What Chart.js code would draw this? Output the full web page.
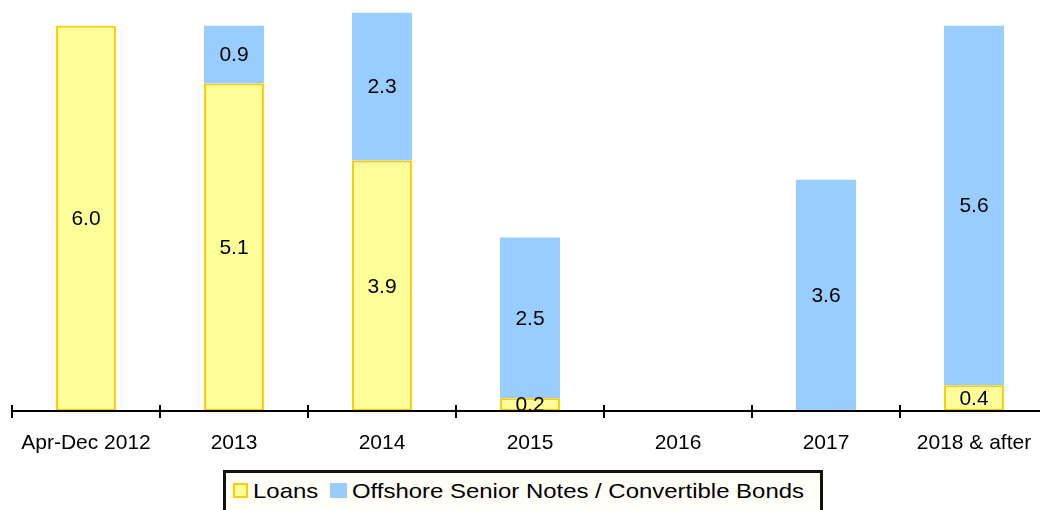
<!DOCTYPE html>
<html>
<head>
<meta charset="utf-8">
<script src="https://cdn.jsdelivr.net/npm/chart.js@4"></script>
<style>
  body { margin: 0; overflow: hidden; background: #fff; font-family: "Liberation Sans", Arial, sans-serif; }
  #wrap { position: relative; width: 1048px; height: 510px; }
  #legend {
    position: absolute; left: 223px; top: 470px; width: 594px; height: 46px;
    border: 3px solid #111; background: #fffef7; box-sizing: content-box;
    font-size: 21px; color: #000;
  }
  #legend .sw { position: absolute; top: 10px; height: 15px; box-sizing: border-box; border: 2px solid; }
  #legend .tx { position: absolute; top: 7px; line-height: 21px; white-space: nowrap;
    transform: scaleX(1.14); transform-origin: left center; }
</style>
</head>
<body>
<div id="wrap">
  <canvas id="myChart" width="1048" height="510"></canvas>
  <div id="legend"></div>
</div>
<script>
// Data
const categories = ['Apr-Dec 2012', '2013', '2014', '2015', '2016', '2017', '2018 & after'];
const loans = [6.0, 5.1, 3.9, 0.2, null, null, 0.4];
const offshore = [null, 0.9, 2.3, 2.5, null, 3.6, 5.6];
const seriesNames = ['Loans', 'Offshore Senior Notes / Convertible Bonds'];

const FONT = '"Liberation Sans", Arial, sans-serif';

// axis line with ticks, then value labels in the middle of each segment
const barLabels = {
  id: 'barLabels',
  afterDatasetsDraw(chart) {
    const c = chart.ctx;
    const xs = chart.scales.x;
    const y0 = chart.chartArea.bottom;
    c.save();
    c.strokeStyle = '#000';
    c.lineWidth = 2;
    c.beginPath();
    c.moveTo(xs.left, y0);
    c.lineTo(chart.width, y0);
    const step = xs.width / categories.length;
    for (let i = 0; i <= categories.length; i++) {
      const x = Math.round(xs.left + i * step);
      c.moveTo(x, y0 - 6);
      c.lineTo(x, y0 + 7);
    }
    c.stroke();

    c.fillStyle = '#000';
    c.font = '21px ' + FONT;
    c.textAlign = 'center';
    c.textBaseline = 'middle';
    chart.data.datasets.forEach((ds, di) => {
      chart.getDatasetMeta(di).data.forEach((bar, i) => {
        const v = ds.data[i];
        if (v == null) return;
        c.fillText(v.toFixed(1), bar.x, (bar.y + bar.base) / 2 + 1);
      });
    });
    c.restore();
  }
};

const ctx = document.getElementById('myChart');
const chart = new Chart(ctx, {
  type: 'bar',
  data: {
    labels: categories,
    datasets: [{
      label: seriesNames[0],
      data: loans,
      backgroundColor: '#ffff99',
      borderColor: '#ffcc00',
      borderWidth: 2,
      borderSkipped: false
    }, {
      label: seriesNames[1],
      data: offshore,
      backgroundColor: '#99ccff',
      borderWidth: 0
    }]
  },
  options: {
    responsive: false,
    animation: false,
    layout: { padding: { left: 12, right: 0, top: 0, bottom: 0 } },
    datasets: { bar: { categoryPercentage: 1, barPercentage: 0.405 } },
    plugins: { legend: { display: false }, tooltip: { enabled: false } },
    scales: {
      x: {
        stacked: true,
        grid: { display: false },
        border: { display: false },
        ticks: { color: '#000', font: { family: FONT, size: 21 }, padding: 12, maxRotation: 0 },
        afterFit(scale) { scale.height = 99; }
      },
      y: {
        stacked: true,
        display: false,
        min: 0,
        max: 6.4
      }
    }
  },
  plugins: [barLabels]
});

// Legend box
const legendPos = [{ sw: 7, w: 15, tx: 27 }, { sw: 104, w: 17, tx: 126 }];
const legend = document.getElementById('legend');
legend.innerHTML = chart.data.datasets.map((ds, i) => {
  const p = legendPos[i];
  const bc = ds.borderWidth ? ds.borderColor : ds.backgroundColor;
  return `<span class="sw" style="left:${p.sw}px;width:${p.w}px;background:${ds.backgroundColor};border-color:${bc}"></span>` +
    `<span class="tx" style="left:${p.tx}px">${ds.label}</span>`;
}).join('');
</script>
</body>
</html>
